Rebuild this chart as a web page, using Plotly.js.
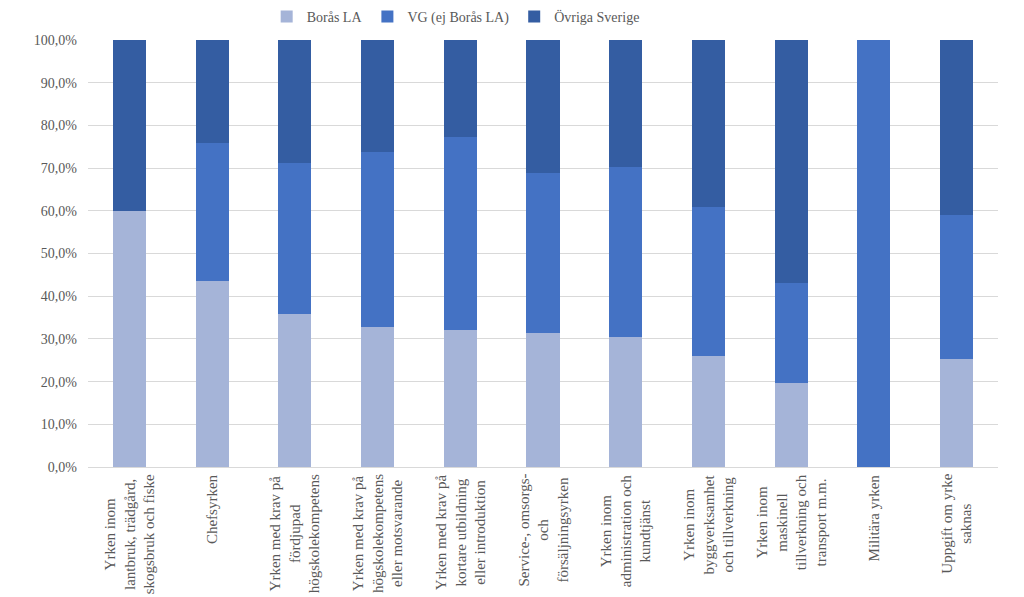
<!DOCTYPE html>
<html>
<head>
<meta charset="utf-8">
<script src="https://cdn.plot.ly/plotly-3.0.1.min.js"></script>
<style>html,body{margin:0;padding:0;background:#fff;}#chart{width:1024px;height:597px;}</style>
</head>
<body>
<div id="chart"></div>
<script>
const categories = [
  "Yrken inom<br>lantbruk, trädgård,<br>skogsbruk och fiske",
  "Chefsyrken",
  "Yrken med krav på<br>fördjupad<br>högskolekompetens",
  "Yrken med krav på<br>högskolekompetens<br>eller motsvarande",
  "Yrken med krav på<br>kortare utbildning<br>eller introduktion",
  "Service-, omsorgs-<br>och<br>försäljningsyrken",
  "Yrken inom<br>administration och<br>kundtjänst",
  "Yrken inom<br>byggverksamhet<br>och tillverkning",
  "Yrken inom<br>maskinell<br>tillverkning och<br>transport m.m.",
  "Militära yrken",
  "Uppgift om yrke<br>saknas"
];
const borasLA = [60.0, 43.6, 35.9, 32.7, 32.1, 31.3, 30.5, 26.1, 19.7, 0, 25.4];
const vgEjBorasLA = [0, 32.3, 35.4, 41.0, 45.2, 37.5, 39.7, 34.8, 23.5, 100, 33.7];
const ovrigaSverige = [40.0, 24.1, 28.7, 26.3, 22.7, 31.2, 29.8, 39.1, 56.8, 0, 40.9];
const seriesNames = ["Borås LA", "VG (ej Borås LA)", "Övriga Sverige"];
const yTickVals = [0, 10, 20, 30, 40, 50, 60, 70, 80, 90, 100];
const yTickText = yTickVals.map(v => v.toFixed(1).replace(".", ",") + "%");

const FONT = "'Liberation Serif', 'Times New Roman', serif";
const xIdx = categories.map((c, i) => i);
const colors = ["#A5B4D8", "#4472C4", "#345DA2"];
const series = [borasLA, vgEjBorasLA, ovrigaSverige];

const traces = series.map((vals, k) => ({
  type: "bar",
  name: seriesNames[k],
  x: xIdx,
  y: vals,
  marker: {color: colors[k], line: {width: 0}},
  hoverinfo: "skip"
}));

const annotations = categories.map((c, i) => ({
  x: i, xref: "x",
  y: 0, yref: "paper",
  yanchor: "top", xanchor: "center",
  yshift: -5,
  text: c,
  textangle: -90,
  align: "center",
  showarrow: false,
  font: {family: FONT, size: 15, color: "#595959"}
}));

const layout = {
  width: 1024, height: 597,
  margin: {l: 88, r: 26, t: 40, b: 130},
  barmode: "stack",
  bargap: 0.6,
  paper_bgcolor: "#ffffff",
  plot_bgcolor: "#ffffff",
  font: {family: FONT, size: 14, color: "#595959"},
  showlegend: true,
  legend: {
    orientation: "h",
    xref: "container", yref: "container",
    x: 0.445, xanchor: "center",
    y: 1 - 17 / 597, yanchor: "middle",
    font: {family: FONT, size: 14, color: "#595959"},
    traceorder: "normal",
    itemwidth: 30
  },
  xaxis: {
    type: "linear",
    range: [-0.5, categories.length - 0.5],
    showticklabels: false,
    showgrid: false,
    zeroline: false,
    showline: true,
    linecolor: "#D9D9D9",
    linewidth: 1,
    ticks: ""
  },
  yaxis: {
    range: [0, 100],
    tickmode: "array",
    tickvals: yTickVals,
    ticktext: yTickText,
    showgrid: true,
    gridcolor: "#D9D9D9",
    gridwidth: 1,
    zeroline: false,
    showline: false,
    ticks: "",
    ticklabelstandoff: 10,
    tickfont: {family: FONT, size: 14, color: "#595959"}
  },
  annotations: annotations
};

Plotly.newPlot("chart", traces, layout, {displayModeBar: false, staticPlot: true});
</script>
</body>
</html>
